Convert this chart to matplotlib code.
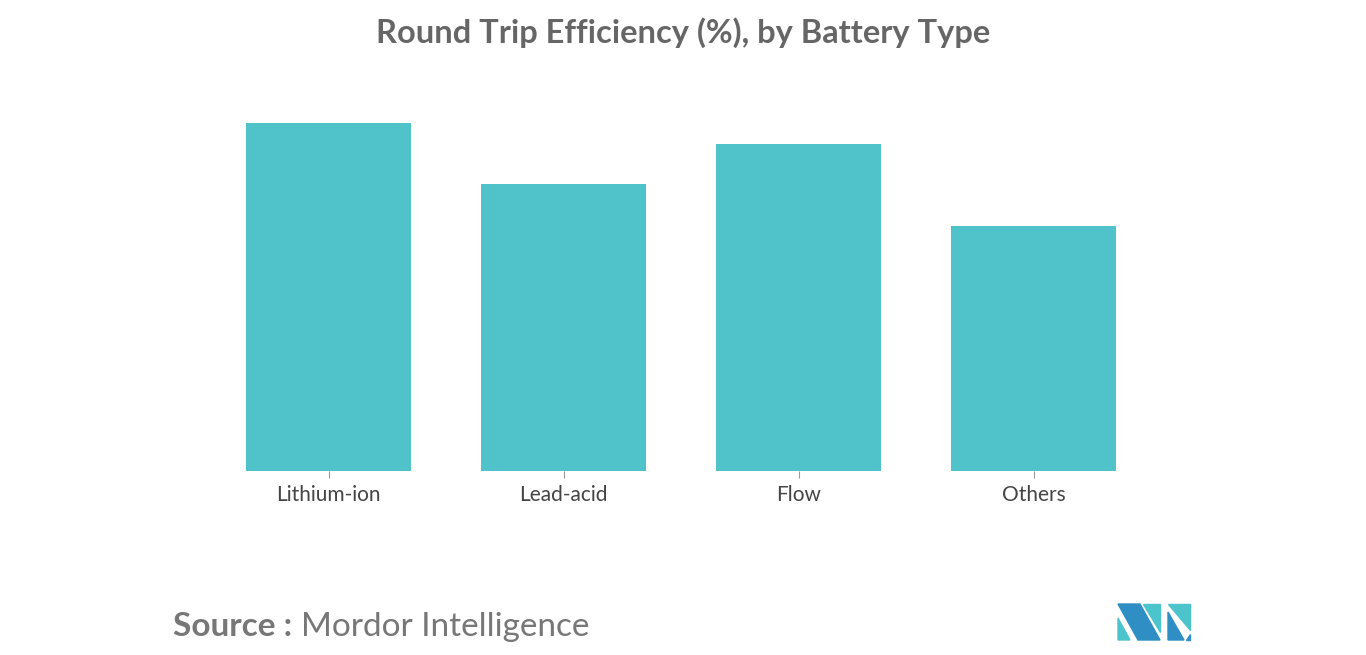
import matplotlib
matplotlib.use("Agg")
import matplotlib.pyplot as plt
from matplotlib.patches import Polygon

categories = ["Lithium-ion", "Lead-acid", "Flow", "Others"]
values = [95, 78.4, 89.3, 66.9]

W, H = 1366, 655
fig = plt.figure(figsize=(W/100, H/100), dpi=100)
fig.patch.set_facecolor("white")

x0, x1 = 211, 1151
ybot, ytop = 471, 471 - 366
ax = fig.add_axes([x0/W, 1 - ybot/H, (x1-x0)/W, (ybot-ytop)/H])
ax.bar(range(len(categories)), values, width=0.702, color="#4fc3c9")
ax.set_xlim(-0.5, 3.5)
ax.set_ylim(0, 100)
ax.set_yticks([])
ax.set_xticks(range(len(categories)))
ax.set_xticklabels(categories, fontsize=15, color="#444444", fontfamily="Lato")
ax.tick_params(axis="x", length=5, color="#999999", pad=5)
for s in ["top", "right", "left", "bottom"]:
    ax.spines[s].set_visible(False)

fig.text(683/W, 1 - 33/H, "Round Trip Efficiency (%), by Battery Type", ha="center", va="center",
         fontsize=23.5, color="#666666", fontweight="bold", fontfamily="Lato")
fig.text(173/W, 1 - 627/H, "Source :", ha="left", va="center", fontsize=24, color="#777777",
         fontweight="bold", fontfamily="Lato")
fig.text(301/W, 1 - 627/H, "Mordor Intelligence", ha="left", va="center", fontsize=24,
         color="#777777", fontfamily="Lato")

def P(pts, c):
    fig.patches.append(Polygon([(x/W, 1 - y/H) for x, y in pts], closed=True,
                               transform=fig.transFigure, color=c))
dark, light = "#2f8fc4", "#4cc4cc"
P([(1118, 604), (1140, 604), (1160, 640), (1138, 640)], dark)
P([(1118, 618), (1130, 640), (1118, 640)], light)
P([(1143, 604), (1160, 604), (1160, 632)], light)
P([(1168, 604), (1190, 604), (1190, 630)], light)
P([(1168, 612), (1184, 640), (1168, 640)], dark)
P([(1190, 634), (1190, 640), (1186, 640)], dark)

fig.savefig("out.png", dpi=100, facecolor="white")
